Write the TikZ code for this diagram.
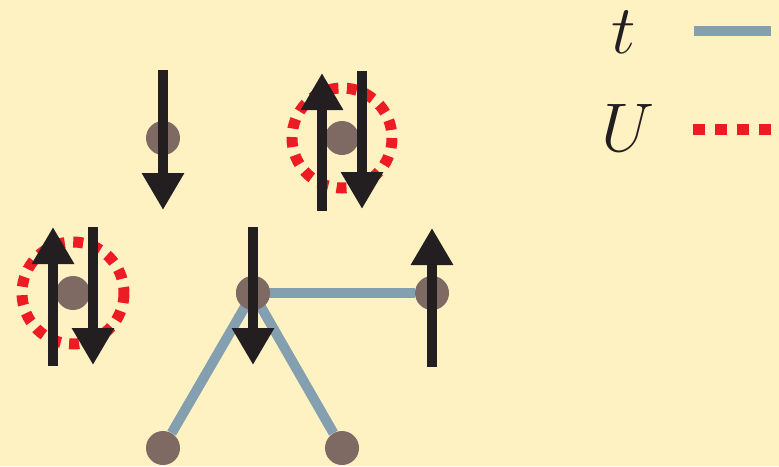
\documentclass[tikz,border=0pt]{standalone}
\usetikzlibrary{arrows.meta,calc}
\definecolor{bg}{HTML}{FFF2C2}
\definecolor{hop}{HTML}{84A0B0}
\definecolor{site}{HTML}{7F6A63}
\definecolor{spinc}{HTML}{231F20}
\definecolor{ured}{HTML}{ED1C24}
\tikzset{
  sitedot/.style={circle,fill=site,minimum size=34pt,inner sep=0pt},
  hopline/.style={draw=hop,line width=10pt},
  spin/.style={draw=spinc,line width=10pt,-{Triangle[width=40pt,length=37pt]}},
  uring/.style={draw=ured,line width=11pt,dash pattern=on 10pt off 8.5pt},
  legtxt/.style={font=\Huge,scale=2.77,inner sep=0pt,text=spinc}
}
\begin{document}
\begin{tikzpicture}[x=1pt,y=-1pt]
\fill[bg] (0,0) rectangle (779,466);
\useasboundingbox (0,0) rectangle (779,466);
% sites
\node[sitedot] (A) at (163,138) {};
\node[sitedot] (B) at (342,138) {};
\node[sitedot] (C) at (73,293) {};
\node[sitedot] (D) at (253,293) {};
\node[sitedot] (E) at (432,293) {};
\node[sitedot] (F) at (163,448) {};
\node[sitedot] (G) at (342,448) {};
% hopping bonds
\draw[hopline] (D.center) -- (E);
\draw[hopline] (D.center) -- (F);
\draw[hopline] (D.center) -- (G);
\node[sitedot] at (D) {};
% Hubbard U rings
\draw[uring] (B) circle (50);
\draw[uring] (C) circle (51);
% spins
\draw[spin] ($(A)+(0,-68)$) -- ($(A)+(0,72)$);
\draw[spin] ($(B)+(-20,73)$) -- ($(B)+(-20,-65)$);
\draw[spin] ($(B)+(20,-67)$) -- ($(B)+(20,71)$);
\draw[spin] ($(C)+(-20,73)$) -- ($(C)+(-20,-66)$);
\draw[spin] ($(C)+(20,-66)$) -- ($(C)+(20,72)$);
\draw[spin] ($(D)+(0,-66)$) -- ($(D)+(0,72)$);
\draw[spin] ($(E)+(0,74)$) -- ($(E)+(0,-65)$);
% legend
\node[legtxt] (lt) at (624,32) {$t$};
\node[legtxt] (lu) at (628,128) {$U$};
\coordinate (lt1) at (694,31);
\coordinate (lt2) at (771,31);
\coordinate (lu1) at (693,129.5);
\coordinate (lu2) at (771,129.5);
\draw[draw=hop,line width=10pt] (lt1) -- (lt2);
\draw[draw=ured,line width=11pt,dash pattern=on 12pt off 10pt] (lu1) -- (lu2);
\end{tikzpicture}
\end{document}
